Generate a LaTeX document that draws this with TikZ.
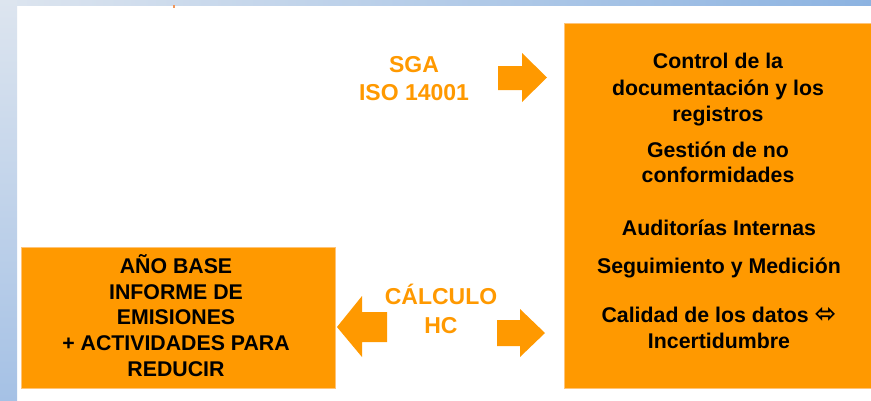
\documentclass[tikz,border=0pt]{standalone}
\usepackage{fontspec}
\setmainfont{Liberation Sans}
\newfontfamily\symfont{DejaVu Sans}
\definecolor{boxor}{RGB}{255,153,0}
\definecolor{edgeor}{RGB}{255,196,120}
\definecolor{markor}{RGB}{240,150,90}
\definecolor{bandA}{RGB}{221,229,239}
\definecolor{bandB}{RGB}{140,179,225}
\definecolor{bandC}{RGB}{165,193,229}
\begin{document}
\begin{tikzpicture}[x=1pt,y=-1pt,
  orbox/.style={fill=boxor,draw=edgeor,line width=0.8pt},
  blk/.style={anchor=base,inner sep=0pt,font=\fontsize{21.3}{26}\selectfont\bfseries,text=black},
  ortxt/.style={anchor=base,inner sep=0pt,font=\fontsize{23}{28}\selectfont\bfseries,text=boxor},
  blockarrow/.style={fill=boxor,draw=none}]
\useasboundingbox (0,0) rectangle (871,400);
\fill[white] (0,0) rectangle (871,400);
% slide background bands
\shade[left color=bandA,right color=bandB] (0,0) rectangle (871,5);
\shade[top color=bandA,bottom color=bandC] (0,0) rectangle (17,400);
\fill[markor] (173,5) rectangle (175,8);
% boxes
\path[orbox] (564,23) rectangle (872,388);
\path[orbox] (21,247) rectangle (335,388);
\node (rbox) at (718,205) {};
\node (lbox) at (178,317) {};
% right box text
\node[blk] (r1) at (718,68) {Control de la};
\node[blk] (r2) at (718,95) {documentación y los};
\node[blk] (r3) at (718,121) {registros};
\node[blk] (r4) at (718,157) {Gestión de no};
\node[blk] (r5) at (718,182) {conformidades};
\node[blk] (r6) at (719,235) {Auditorías Internas};
\node[blk] (r7) at (719,273) {Seguimiento y Medición};
\node[blk] (r8) at (719,322) {Calidad de los datos {\symfont\fontsize{26}{28}\selectfont ⬄}};
\node[blk] (r9) at (719,348) {Incertidumbre};
% left box text
\node[blk] (l1) at (176,273) {AÑO BASE};
\node[blk] (l2) at (176,299) {INFORME DE};
\node[blk] (l3) at (176,324) {EMISIONES};
\node[blk] (l4) at (176,350) {+ ACTIVIDADES PARA};
\node[blk] (l5) at (176,376) {REDUCIR};
% orange labels
\node[ortxt] (sga) at (414,72) {SGA};
\node[ortxt] (iso) at (414,100) {ISO 14001};
\node[ortxt] (calc) at (441,304) {CÁLCULO};
\node[ortxt] (hc) at (441,333) {HC};
% block arrows
\fill[blockarrow] (498,66) -- (522,66) -- (522,53) -- (547,77.5) -- (522,102) -- (522,90) -- (498,90) -- cycle;
\fill[blockarrow] (387,312) -- (362,312) -- (362,296) -- (337,327) -- (362,357) -- (362,342) -- (387,342) -- cycle;
\fill[blockarrow] (497,320) -- (520,320) -- (520,309) -- (545,333) -- (520,357) -- (520,346) -- (497,346) -- cycle;
\end{tikzpicture}
\end{document}
